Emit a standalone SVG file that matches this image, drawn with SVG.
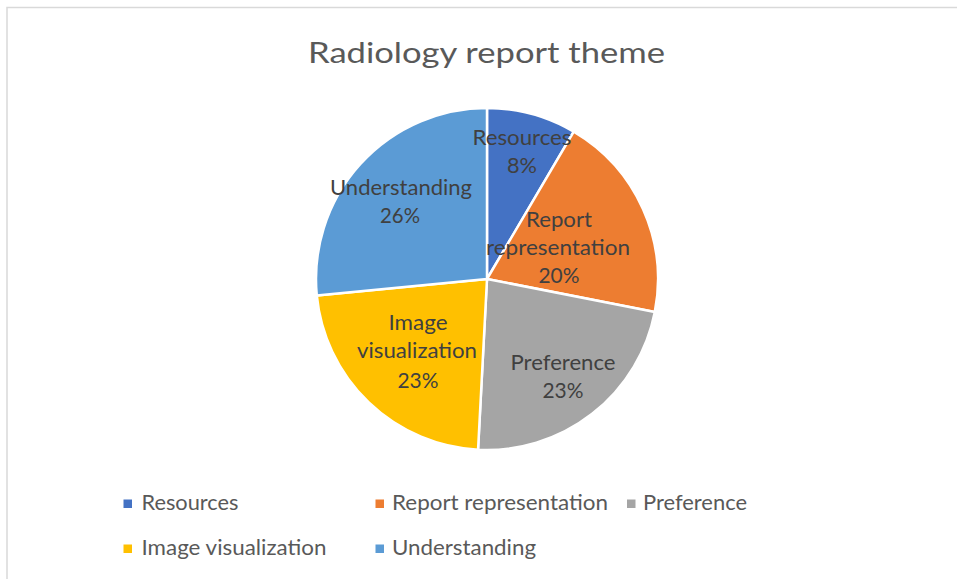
<svg xmlns="http://www.w3.org/2000/svg" width="957" height="579" viewBox="0 0 957 579">
<style>
.bg{fill:#FFFFFF}
.frame{stroke:#D9D9D9;stroke-width:1.5;fill:none}
.slice{stroke:#FFFFFF;stroke-width:2.5;stroke-linejoin:round}
.title{font-family:Lato,"Open Sans","Liberation Sans",sans-serif;font-size:28.5px;fill:#595959;text-anchor:middle}
.dl{font-family:Lato,"Open Sans","Liberation Sans",sans-serif;font-size:21px;fill:#404040;text-anchor:middle}
.lg{font-family:Lato,"Open Sans","Liberation Sans",sans-serif;font-size:21px;fill:#595959}
</style>
<rect class="bg" x="0" y="0" width="957" height="579"/>
<path class="frame" d="M7,579 V7.5 H957"/>
<text class="title" x="486.5" y="63" textLength="357" lengthAdjust="spacingAndGlyphs">Radiology report theme</text>
<g id="pie">
<g id="resources"><path class="slice" fill="#4472C4" d="M487,279 L487,108 A171,171 0 0 1 573.78,131.67 Z"/></g>
<g id="report-representation"><path class="slice" fill="#ED7D31" d="M487,279 L573.78,131.67 A171,171 0 0 1 654.80,311.92 Z"/></g>
<g id="preference"><path class="slice" fill="#A5A5A5" d="M487,279 L654.80,311.92 A171,171 0 0 1 478.05,449.77 Z"/></g>
<g id="image-visualization"><path class="slice" fill="#FFC000" d="M487,279 L478.05,449.77 A171,171 0 0 1 316.79,295.39 Z"/></g>
<g id="understanding"><path class="slice" fill="#5B9BD5" d="M487,279 L316.79,295.39 A171,171 0 0 1 487,108 Z"/></g>
</g>
<g id="data-labels">
<text class="dl" x="522" y="145" textLength="99" lengthAdjust="spacingAndGlyphs">Resources</text>
<text class="dl" x="522" y="173" textLength="30" lengthAdjust="spacingAndGlyphs">8%</text>
<text class="dl" x="559" y="227" textLength="66" lengthAdjust="spacingAndGlyphs">Report</text>
<text class="dl" x="558" y="255" textLength="144" lengthAdjust="spacingAndGlyphs">representation</text>
<text class="dl" x="559" y="283" textLength="41" lengthAdjust="spacingAndGlyphs">20%</text>
<text class="dl" x="563" y="370" textLength="105" lengthAdjust="spacingAndGlyphs">Preference</text>
<text class="dl" x="563" y="398" textLength="41" lengthAdjust="spacingAndGlyphs">23%</text>
<text class="dl" x="418" y="330" textLength="59" lengthAdjust="spacingAndGlyphs">Image</text>
<text class="dl" x="417" y="358" textLength="120" lengthAdjust="spacingAndGlyphs">visualization</text>
<text class="dl" x="418" y="388" textLength="41" lengthAdjust="spacingAndGlyphs">23%</text>
<text class="dl" x="401" y="195" textLength="142" lengthAdjust="spacingAndGlyphs">Understanding</text>
<text class="dl" x="400" y="223" textLength="40" lengthAdjust="spacingAndGlyphs">26%</text>
</g>
<g id="legend">
<rect x="123.5" y="499.5" width="8.5" height="8.5" fill="#4472C4"/>
<text class="lg" x="141.5" y="510" textLength="97" lengthAdjust="spacingAndGlyphs">Resources</text>
<rect x="375.5" y="499.5" width="8.5" height="8.5" fill="#ED7D31"/>
<text class="lg" x="392" y="510" textLength="216" lengthAdjust="spacingAndGlyphs">Report representation</text>
<rect x="627" y="499.5" width="8.5" height="8.5" fill="#A5A5A5"/>
<text class="lg" x="643" y="510" textLength="104" lengthAdjust="spacingAndGlyphs">Preference</text>
<rect x="123.5" y="544.5" width="8.5" height="8.5" fill="#FFC000"/>
<text class="lg" x="141.5" y="555" textLength="185" lengthAdjust="spacingAndGlyphs">Image visualization</text>
<rect x="375.5" y="544.5" width="8.5" height="8.5" fill="#5B9BD5"/>
<text class="lg" x="392" y="555" textLength="144" lengthAdjust="spacingAndGlyphs">Understanding</text>
</g>
</svg>
